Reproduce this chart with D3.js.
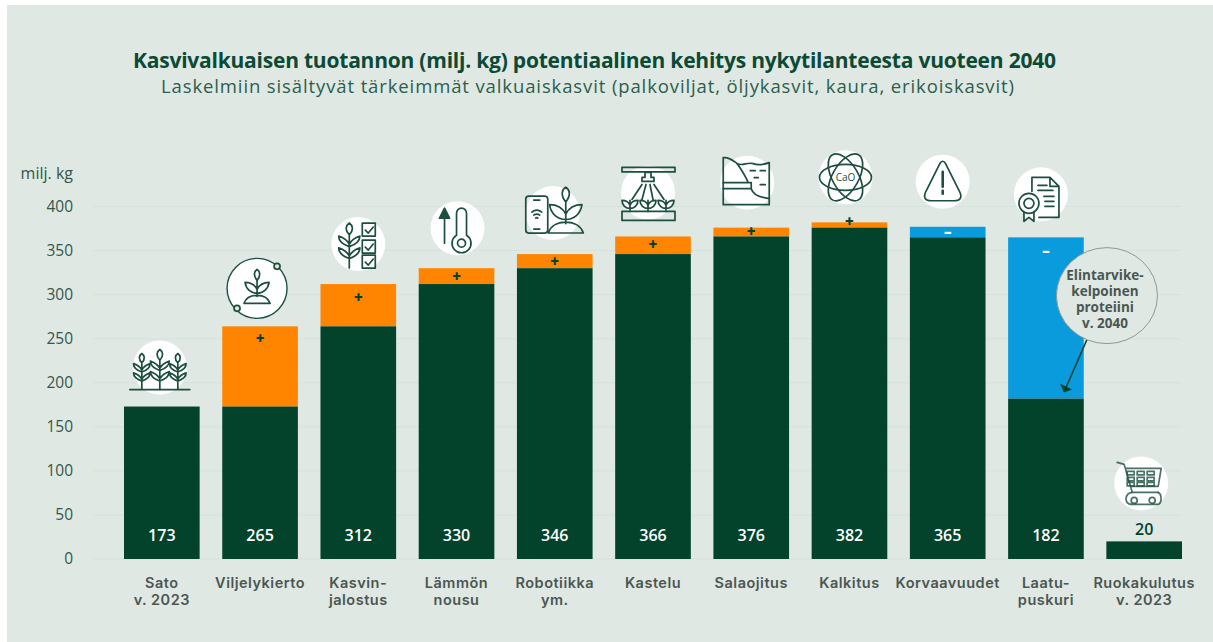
<!DOCTYPE html>
<html>
<head>
<meta charset="utf-8">
<script src="https://cdn.jsdelivr.net/npm/d3@7"></script>
<style>
  body { margin: 0; background: #fff; }
  text { font-family: "Open Sans", sans-serif; }
</style>
</head>
<body>
<div id="chart"></div>
<script>
var w = 1213
var h = 642

// values
var categories = ["Sato", "Viljelykierto", "Kasvin", "Lämmön", "Robotiikka", "Kastelu", "Salaojitus", "Kalkitus", "Korvaavuudet", "Laatu", "Ruokakulutus"];
var labelLine1 = ["Sato", "Viljelykierto", "Kasvin-", "Lämmön", "Robotiikka", "Kastelu", "Salaojitus", "Kalkitus", "Korvaavuudet", "Laatu-", "Ruokakulutus"];
var labelLine2 = ["v. 2023", "", "jalostus", "nousu", "ym.", "", "", "", "", "puskuri", "v. 2023"];
var darkValues = [173, 173, 264, 312, 330, 346, 366, 376, 365, 182, 20];
var topValues = [173, 264, 312, 330, 346, 366, 376, 382, 377, 365, 20];
var totalLabels = [173, 265, 312, 330, 346, 366, 376, 382, 365, 182, 20];
var signs = ["", "+", "+", "+", "+", "+", "+", "+", "-", "-", ""];
var yTicks = [0, 50, 100, 150, 200, 250, 300, 350, 400];

var dark = "#03432b", orange = "#ff8500", blue = "#0a9bdc", ink = "#1c4f3e", grey = "#4b5652";

var svg = d3.select("#chart").append("svg")
    .attr("width", w)
    .attr("height", h)
    .style("display", "block");

svg.append("rect")   // pale panel, white edge shows top and left
    .attr("x", 7).attr("y", 5)
    .attr("width", w - 7).attr("height", h - 5)
    .attr("fill", "#dfe8e3");

var x = d3.scaleBand().domain(categories).range([124, 1182]).paddingInner(0.23).paddingOuter(0);
var y = d3.scaleLinear().domain([0, 400]).range([559, 206.5]);

svg.append("text").attr("x", 133).attr("y", 68)
    .attr("textLength", 923)
    .style("font-size", "21px").style("font-weight", 700).attr("fill", "#0d4a35")
    .text("Kasvivalkuaisen tuotannon (milj. kg) potentiaalinen kehitys nykytilanteesta vuoteen 2040");
svg.append("text").attr("x", 161).attr("y", 93)
    .attr("textLength", 853)
    .style("font-size", "18.5px").attr("fill", "#2c5e4d")
    .text("Laskelmiin sisältyvät tärkeimmät valkuaiskasvit (palkoviljat, öljykasvit, kaura, erikoiskasvit)");

// grid
svg.selectAll("line.grid").data(yTicks).enter().append("line")
    .attr("class", "grid")
    .attr("x1", 93).attr("x2", 1181)
    .attr("y1", function(d) { return y(d); })
    .attr("y2", function(d) { return y(d); })
    .attr("stroke", "#d6e2dc");

var yAxis = svg.append("g")
    .attr("transform", "translate(76,0)")
    .call(d3.axisLeft(y).tickValues(yTicks).tickSize(0).tickPadding(3));
yAxis.select(".domain").remove();
yAxis.selectAll("text").style("font-size", "15.5px").style("font-family", "\"Open Sans\", sans-serif").attr("fill", "#33574a");

svg.append("text").attr("x", 73).attr("y", 179).attr("text-anchor", "end")
    .style("font-size", "16px").attr("fill", "#33574a").text("milj. kg");

// bars: coloured top part first, dark base over it
var bars = svg.selectAll("g.bar").data(categories).enter().append("g").attr("class", "bar");

bars.append("rect")
    .attr("x", function(d) { return x(d); })
    .attr("width", x.bandwidth())
    .attr("y", function(d, i) { return y(topValues[i]); })
    .attr("height", function(d, i) { return y(darkValues[i]) - y(topValues[i]); })
    .attr("fill", function(d, i) { return signs[i] == "-" ? blue : orange; });

bars.append("rect")
    .attr("x", function(d) { return x(d); })
    .attr("width", x.bandwidth())
    .attr("y", function(d, i) { return y(darkValues[i]); })
    .attr("height", function(d, i) { return y(0) - y(darkValues[i]); })
    .attr("fill", dark);

// totals
bars.append("text")
    .attr("x", function(d) { return x(d) + x.bandwidth() / 2; })
    .attr("y", function(d, i) { return i == 10 ? y(darkValues[i]) - 6 : 541; })
    .attr("text-anchor", "middle")
    .style("font-size", "16px").style("font-weight", 600)
    .attr("fill", function(d, i) { return i == 10 ? dark : "#fff"; })
    .text(function(d, i) { return totalLabels[i]; });

// plus / minus, drop is the distance under the top of the bar
var signDrop = [0, 13, 14, 9, 8, 9, 4, 0, 5, 14, 0];
bars.append("text")
    .attr("x", function(d) { return x(d) + x.bandwidth() / 2; })
    .attr("y", function(d, i) { return y(topValues[i]) + signDrop[i] + 5; })
    .attr("text-anchor", "middle")
    .style("font-size", "15px").style("font-weight", 800)
    .attr("fill", function(d, i) { return signs[i] == "-" ? "#fff" : dark; })
    .text(function(d, i) { return signs[i] == "-" ? "–" : signs[i]; });

// category labels
bars.append("text")
    .attr("x", function(d) { return x(d) + x.bandwidth() / 2; })
    .attr("y", 587.5)
    .attr("text-anchor", "middle")
    .style("font-family", "Inter, sans-serif")
    .style("font-size", "14.5px").style("font-weight", 600).style("letter-spacing", "0.5px")
    .attr("fill", grey)
    .text(function(d, i) { return labelLine1[i]; });
bars.append("text")
    .attr("x", function(d) { return x(d) + x.bandwidth() / 2; })
    .attr("y", 605)
    .attr("text-anchor", "middle")
    .style("font-family", "Inter, sans-serif")
    .style("font-size", "14.5px").style("font-weight", 600).style("letter-spacing", "0.5px")
    .attr("fill", grey)
    .text(function(d, i) { return labelLine2[i]; });

// icon helpers
function sprout(g, cx, top, s) {
  // stem, three leaves and a mound; 34 units tall
  g.append("g").attr("transform", "translate(" + cx + "," + top + ") scale(" + s + ")")
    .append("path")
    .attr("d", "M0 11 C-4 6 -3 2 0 0 C3 2 4 6 0 11 V27 M0 24 C-6 24 -11 20 -12 13 C-6 13 -2 16 0 20 C2 16 6 13 12 13 C11 20 6 24 0 24 M-13 34 C-11 28 -5 26 0 26 C5 26 11 28 13 34 Z")
    .attr("vector-effect", "non-scaling-stroke");
}
function wheat(g, cx, top, s) {
  g.append("g").attr("transform", "translate(" + cx + "," + top + ") scale(" + s + ")")
    .append("path")
    .attr("d", "M0 10 C-4 6 -3 2 0 0 C3 2 4 6 0 10 V38 M0 18 C-2 14 -6 12 -9 11 C-9 15 -6 18 0 20 C6 18 9 15 9 11 C6 12 2 14 0 18 M0 28 C-2 24 -6 22 -9 21 C-9 25 -6 28 0 30 C6 28 9 25 9 21 C6 22 2 24 0 28")
    .attr("vector-effect", "non-scaling-stroke");
}

var iconDraw = [
  function(g) {
    wheat(g, -18, -14, 0.92); wheat(g, 0, -18, 1.05); wheat(g, 18, -14, 0.92);
    g.append("path").attr("d", "M-30 22 H30");
  },
  function(g) {
    g.select("circle").attr("r", 30).attr("stroke", ink).attr("stroke-width", 1.4);
    g.append("circle").attr("cx", 20).attr("cy", -22).attr("r", 3).attr("fill", "#dfe8e3");
    g.append("circle").attr("cx", -20).attr("cy", 20).attr("r", 3).attr("fill", "#dfe8e3");
    sprout(g, 0, -19, 1);
  },
  function(g) {
    wheat(g, -9, -21, 1.18);
    [-21, -4, 11].forEach(function(t) {
      g.append("rect").attr("x", 4).attr("y", t).attr("width", 13).attr("height", 13);
      g.append("path").attr("d", "M7 " + (t + 7) + " l3 3 l5 -6");
    });
  },
  function(g) {
    g.append("path").attr("d", "M-13 15 V-12");
    g.append("path").attr("d", "M-13 -20 l5 10 h-10 Z").attr("fill", ink);
    g.append("path").attr("d", "M-1 7 V-15 A5 5 0 0 1 9 -15 V7 A9.5 9.5 0 1 1 -1 7 Z");
    g.append("circle").attr("cx", 4).attr("cy", 15).attr("r", 4);
  },
  function(g) {
    g.append("rect").attr("x", -27).attr("y", -17).attr("width", 22).attr("height", 37).attr("rx", 3);
    g.append("path").attr("d", "M-19 -13 h6 M-19 16 h6 M-21 -1 q5 -4 10 0 M-19 2 q3 -2 6 0 M-17 5 q1 -1 2 0");
    sprout(g, 13, -26, 1.35);
  },
  function(g) {
    g.append("rect").attr("x", -26).attr("y", -25).attr("width", 53).attr("height", 4.5);
    g.append("path").attr("d", "M-3 -20 h6 v5 h3 v4 h-12 v-4 h3 Z");
    g.append("path").attr("d", "M-6 -8 L-16 7 M-2 -8 L-6 7 M2 -8 L5 7 M6 -8 L16 7");
    [-18, 0, 18].forEach(function(c) {
      g.append("path").attr("d", "M" + c + " 8 V19 M" + c + " 16 c-4 0 -8 -3 -8 -8 c4 0 7 2 8 5 c1 -3 4 -5 8 -5 c0 5 -4 8 -8 8");
    });
    g.append("rect").attr("x", -26).attr("y", 19).attr("width", 53).attr("height", 9);
  },
  function(g) {
    g.append("path").attr("d", "M-24 22 V-25 C-18 -26 -14 -22 -10 -19 C-5 -16 0 -21 6 -19 C11 -17 16 -18 22 -20 V22 Z");
    g.append("path").attr("d", "M-10 -19 C-5 -12 -1 -5 1 0 M-24 0 H4 V6 H-24 M4 6 C6 13 14 15 22 16");
    g.append("path").attr("d", "M3 -12 h5 M13 -12 h5 M7 -5 h4 M13 2 h5");
  },
  function(g) {
    [0, 60, -60].forEach(function(a) {
      g.append("ellipse").attr("rx", 26).attr("ry", 13).attr("transform", "rotate(" + a + ")").attr("fill", "none");
    });
    g.append("text").attr("text-anchor", "middle").attr("y", 4)
      .style("font-size", "10px").attr("fill", ink).attr("stroke", "none").text("CaO");
  },
  function(g) {
    g.append("path").attr("d", "M-3 -19 Q0 -24 3 -19 L17 9 Q21 18 11 18 H-11 Q-21 18 -17 9 Z").attr("transform", "translate(0,1)");
    g.append("path").attr("d", "M0 -10 V5").attr("stroke-width", 2.6);
    g.append("path").attr("d", "M0 9 V12").attr("stroke-width", 2.6);
  },
  function(g) {
    g.append("path").attr("d", "M-9 -3 V-17 H9 L18 -8 V23 H-2 M9 -17 V-8 H18 M-3 -9 H6 M-3 -4 H12 M3 2 H13 M4 7 H13 M4 12 H13");
    g.append("circle").attr("cx", -12).attr("cy", 9).attr("r", 10).attr("fill", "#fff");
    g.append("circle").attr("cx", -12).attr("cy", 9).attr("r", 5);
    g.append("path").attr("d", "M-17 18 V27 L-12 23 L-7 27 V18");
  },
  function(g) {
    g.attr("stroke-opacity", 0.8);
    g.append("path").attr("d", "M-24 -21 L-17 -19 L-9 9 H17 M-15 -15 H20 L17 3 H-10");
    [-11, -1, 9].forEach(function(c) {
      [-12, -6, -1].forEach(function(r) {
        g.append("rect").attr("x", c - 3).attr("y", r).attr("width", 7).attr("height", 3.5);
      });
    });
    g.append("path").attr("d", "M-9 9 C-17 10 -17 21 -10 21 H16 C21 21 21 11 17 9");
    g.append("circle").attr("cx", -7).attr("cy", 17).attr("r", 3);
    g.append("circle").attr("cx", 11).attr("cy", 17).attr("r", 3);
  }
];

// offset of each icon from the centre of its bar and from its top
var iconDx = [-2, -3, 0, 1, -2, -5, -4, -4, -5, -5, -3];
var iconLift = [39, 38, 40, 40, 41, 44, 45, 45, 45, 43, 58];

var icons = svg.selectAll("g.icon").data(categories).enter().append("g")
    .attr("class", "icon")
    .attr("transform", function(d, i) {
      return "translate(" + (x(d) + x.bandwidth() / 2 + iconDx[i]) + "," + (y(topValues[i]) - iconLift[i]) + ")";
    })
    .attr("fill", "none")
    .attr("stroke", ink)
    .attr("stroke-width", 1.7)
    .attr("stroke-linejoin", "round")
    .attr("stroke-linecap", "round");

icons.append("circle").attr("r", 27).attr("fill", "#fff").attr("stroke", "none");
icons.each(function(d, i) { iconDraw[i](d3.select(this)); });

// callout over the buffer bar
var callX = x("Laatu") + x.bandwidth() / 2;
var callout = svg.append("g");
callout.append("path")
    .attr("d", "M" + (callX + 41) + "," + (y(182) - 59) + " L" + (callX + 20) + "," + (y(182) - 11))
    .attr("stroke", dark).attr("stroke-width", 1.5);
callout.append("path")
    .attr("d", "M" + (callX + 14) + "," + (y(182) - 15) + " L" + (callX + 26) + "," + (y(182) - 9) + " L" + (callX + 18) + "," + (y(182) - 6) + " Z")
    .attr("fill", dark);
callout.append("ellipse")
    .attr("cx", callX + 61).attr("cy", y(300) + 1)
    .attr("rx", 50.5).attr("ry", 48)
    .attr("fill", "#dfe8e3").attr("stroke", "#8d9a94");
var calloutLines = ["Elintarvike-", "kelpoinen", "proteiini", "v. 2040"];
callout.selectAll("text").data(calloutLines).enter().append("text")
    .attr("x", callX + 59)
    .attr("y", function(d, i) { return y(300) - 15 + i * 16; })
    .attr("text-anchor", "middle")
    .style("font-size", "13.5px").style("font-weight", 700)
    .attr("fill", grey)
    .text(function(d) { return d; });
</script>
</body>
</html>
